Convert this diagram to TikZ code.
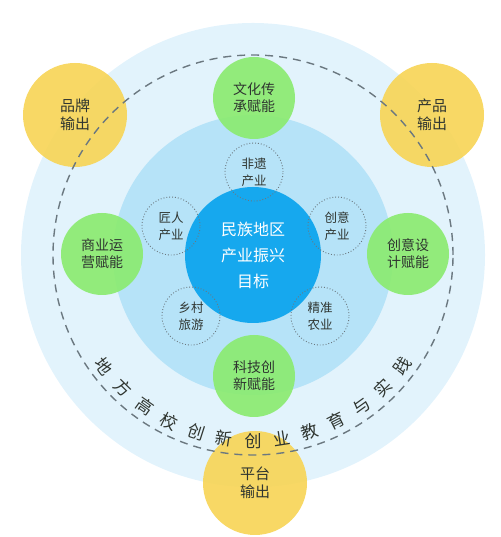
\documentclass[tikz,border=0pt]{standalone}
\usepackage{fontspec}
\newfontfamily\cjk{Noto Sans CJK SC}
\usepackage{tikz}
\usetikzlibrary{positioning,calc}
\usepackage{xcolor}
\definecolor{ringout}{HTML}{E2F3FC}
\definecolor{ringmid}{HTML}{B6E3F8}
\definecolor{goalblue}{HTML}{16A8EE}
\definecolor{enable}{HTML}{8AEB6E}
\definecolor{output}{HTML}{F7D558}
\definecolor{dashgray}{HTML}{6B7880}
\definecolor{txt}{HTML}{2F3530}

\tikzset{
    ring/.style={circle, inner sep=0pt, minimum size=#1},
    goal/.style={circle, fill=goalblue, minimum size=136pt, inner sep=0pt,
        text=white, align=center, font=\cjk\fontsize{16}{26}\selectfont},
    industry/.style={circle, draw=dashgray, dotted, line width=0.9pt, minimum size=58pt,
        inner sep=0pt, text=txt, align=center, font=\cjk\fontsize{12.5}{17}\selectfont},
    power/.style={circle, fill=enable, fill opacity=0.9, text opacity=1, minimum size=82pt,
        inner sep=0pt, text=txt, align=center, font=\cjk\fontsize{14}{17}\selectfont},
    export/.style={circle, fill=output, fill opacity=0.92, text opacity=1, minimum size=104pt,
        inner sep=0pt, text=txt, align=center, font=\cjk\fontsize{15}{18}\selectfont},
    arcchar/.style={inner sep=0pt, text=txt, font=\cjk\fontsize{17}{17}\selectfont}
}

\begin{document}
\begin{tikzpicture}[x=1pt, y=1pt]
        \useasboundingbox (0,0) rectangle (500,537);

        \coordinate (c) at (253,282);
        \node[ring=464pt, fill=ringout] (outer) at (c) {};
        \node[ring=280pt, fill=ringmid] (mid)   at (c) {};
        \node[goal] (goal) at (c) {民族地区\\产业振兴\\目标};

        \node[industry] (feiyi)    at (254,365) {非遗\\产业};
        \node[industry] (jiangren) at (171,311) {匠人\\产业};
        \node[industry] (chuangyi) at (337,311) {创意\\产业};
        \node[industry] (xiangcun) at (191,221) {乡村\\旅游};
        \node[industry] (jingzhun) at (320,221) {精准\\农业};

        \node[power] (wenhua)  at (254,439) {文化传\\承赋能};
        \node[power] (shangye) at (102,283) {商业运\\营赋能};
        \node[power] (sheji)   at (408,283) {创意设\\计赋能};
        \node[power] (keji)    at (254,161) {科技创\\新赋能};

        \node[export] (pinpai)  at (75,422)  {品牌\\输出};
        \node[export] (chanpin) at (432,422) {产品\\输出};
        \node[export] (pingtai) at (255,54)  {平台\\输出};

        \node[ring=400pt, draw=dashgray, line width=1.4pt, dash pattern=on 8pt off 6pt] (edu) at (c) {};

        \foreach \ch [count=\i from 0] in {地,方,高,校,创,新,创,业,教,育,与,实,践} {
            \pgfmathsetmacro\ang{270+(\i-6)*8.9}
            \node[arcchar, rotate=\ang+90] (arc\i) at ($(c)+(\ang:186)$) {\ch};
        }
\end{tikzpicture}
\end{document}
